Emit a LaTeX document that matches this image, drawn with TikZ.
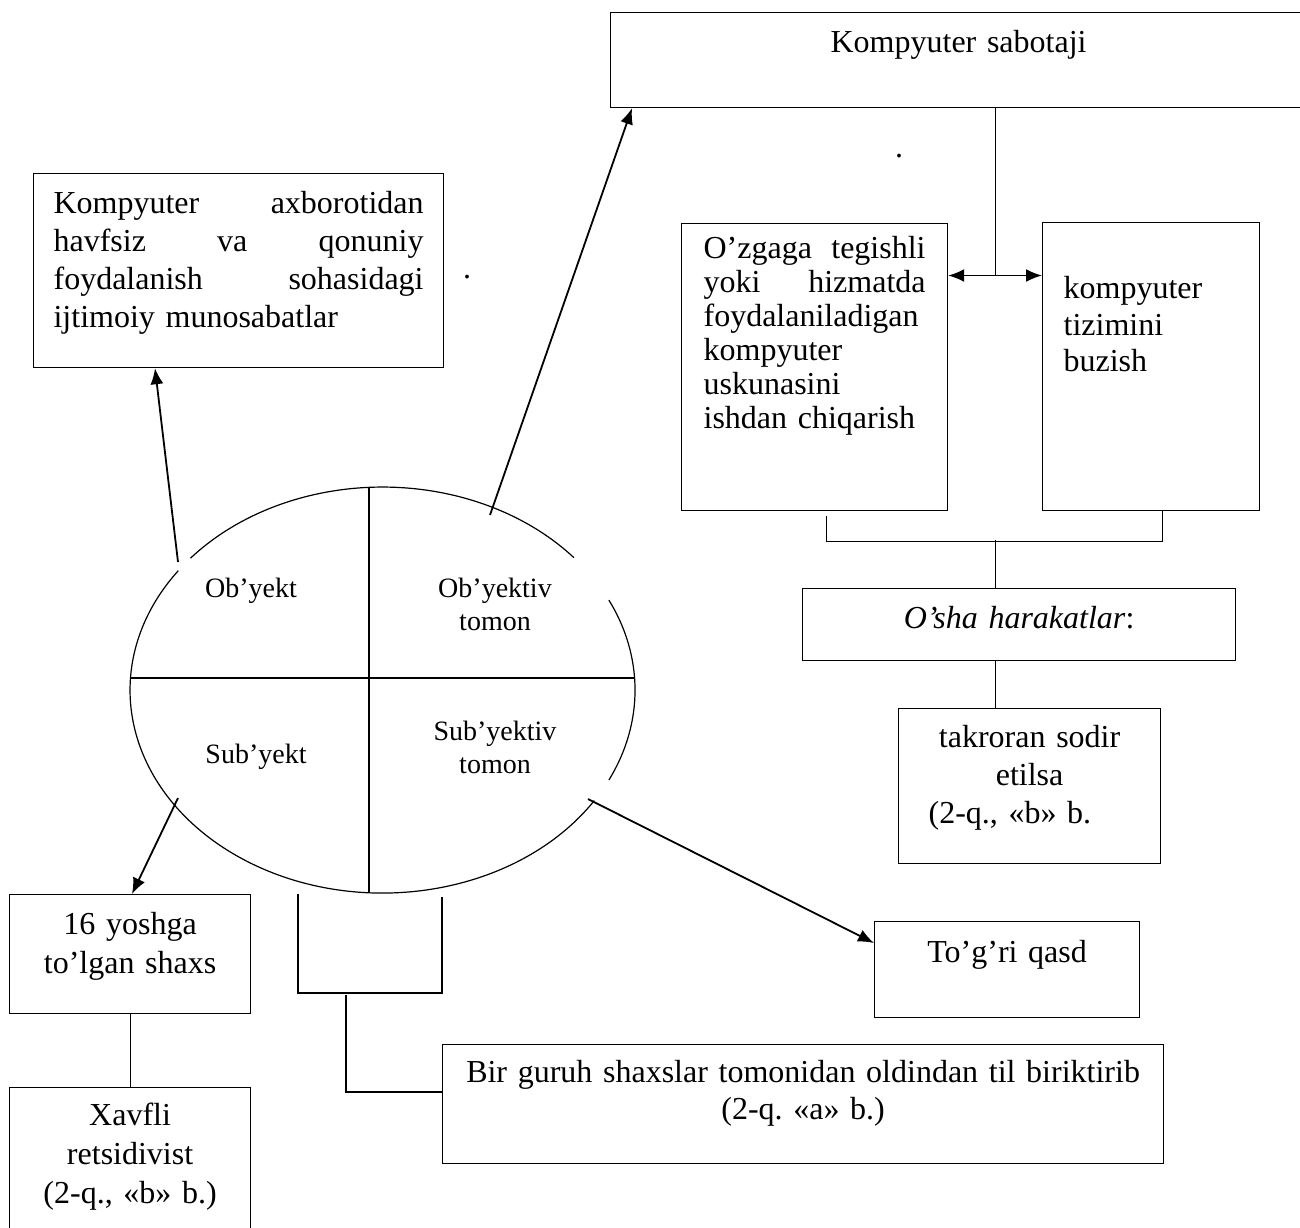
\documentclass[tikz,border=0pt]{standalone}
\usepackage{fontspec}
\setmainfont{Liberation Serif}
\usetikzlibrary{arrows.meta,calc}
\frenchspacing

\begin{document}
\begin{tikzpicture}[x=0.5pt,y=-0.5pt]

    \tikzset{
      blok/.style={
        draw,
        line width=0.6pt,
        anchor=north west,
        inner ysep=0pt,
        font=\fontsize{16}{18.5}\selectfont,
      },
      yozuv/.style={
        anchor=base,
        text width=80pt,
        align=center,
        inner sep=0pt,
        font=\fontsize{14}{16.5}\selectfont,
      },
      strelka/.style={
        line width=0.9pt,
        -{Latex[length=8pt,width=6.5pt]},
      },
      chiziq/.style={
        line width=0.6pt,
      },
    }
    \useasboundingbox (0,0) rectangle (1300,1227);
    \clip (0,0) rectangle (1300,1227);

	\node[blok, inner xsep=0pt, text width=348pt, align=center, text height=20pt, text depth=27.5pt] (sabotaj) at (610,12) {Kompyuter sabotaji};
	\node[blok, inner xsep=10pt, text width=185pt, align=left, text height=20pt, text depth=77pt, font=\fontsize{16}{19}\selectfont] (axborot) at (33,173) {Kompyuter\hfill axborotidan\\havfsiz\hfill va\hfill qonuniy\\foydalanish\hfill sohasidagi\\ijtimoiy munosabatlar};
	\node[blok, inner xsep=11pt, text width=111pt, align=left, text height=17.5pt, text depth=126pt, font=\fontsize{16}{17}\selectfont] (ozgaga) at (681,223) {O’zgaga\hfill tegishli\\yoki\hfill hizmatda\\foydalaniladigan\\kompyuter\\uskunasini\\ishdan chiqarish};
	\node[blok, inner xsep=10.5pt, text width=87.5pt, align=left, text height=38pt, text depth=106pt, font=\fontsize{16}{18.3}\selectfont] (tizim) at (1042,222) {kompyuter\\tizimini\\buzish};
	\node[blok, inner xsep=0pt, text width=216.5pt, align=center, text height=20pt, text depth=16pt] (osha) at (802,588) {\textit{O’sha harakatlar}:};
	\node[blok, inner xsep=0pt, text width=131pt, align=center, text height=19.5pt, text depth=58pt, font=\fontsize{16}{19}\selectfont] (takror) at (898,708) {takroran sodir\\etilsa\\\makebox[131pt][l]{\hspace{15pt}(2-q., «b» b.}};
	\node[blok, inner xsep=0pt, text width=132.5pt, align=center, text height=20.5pt, text depth=27.5pt] (togri) at (874,921) {To’g’ri qasd};
	\node[blok, inner xsep=0pt, text width=360.5pt, align=center, text height=19pt, text depth=40.5pt] (birguruh) at (442,1044) {Bir guruh shaxslar tomonidan oldindan til biriktirib\\(2-q. «a» b.)};
	\node[blok, inner xsep=0pt, text width=120.5pt, align=center, text height=20pt, text depth=39.5pt, font=\fontsize{16}{19.5}\selectfont] (yosh16) at (9,894) {16 yoshga\\to’lgan shaxs};
	\node[blok, inner xsep=0pt, text width=120.5pt, align=center, text height=19pt, text depth=55pt, font=\fontsize{16}{19.5}\selectfont] (xavfli) at (9,1087) {Xavfli\\retsidivist\\(2-q., «b» b.)};

	\draw[chiziq] (190.5,558.2) arc[start angle=139.5, end angle=40.7, x radius=126.25pt, y radius=101.5pt];
	\draw[chiziq] (608.9,600.1) arc[start angle=26.3, end angle=-26.3, x radius=126.25pt, y radius=101.5pt];
	\draw[chiziq] (594.3,800.6) arc[start angle=-33, end angle=-216, x radius=126.25pt, y radius=101.5pt];
	\draw[chiziq] (369,487) -- (369,893);
	\draw[chiziq] (130,678) -- (635,678);

	\node[yozuv] (obyekt) at (251,597) {Ob’yekt};
	\node[yozuv] (obtomon) at (495,597) {Ob’yektiv\\tomon};
	\node[yozuv] (subyekt) at (256,763) {Sub’yekt};
	\node[yozuv] (subtomon) at (495,740) {Sub’yektiv\\tomon};

	\coordinate (el-a) at (178,562);
	\coordinate (el-b) at (490,515);
	\coordinate (el-c) at (178,798);
	\coordinate (el-d) at (588,799);
	\draw[strelka] (el-a) -- ([xshift=61pt]axborot.south west);
	\draw[strelka] (el-b) -- ([xshift=11pt]sabotaj.south west);
	\draw[strelka] (el-c) -- ([xshift=61.5pt]yosh16.north west);
	\draw[strelka] (el-d) -- ([yshift=-11pt]togri.north west);

	\coordinate (juft) at ($(ozgaga.north east)!0.5!(tizim.north west)+(0,53)$);
	\draw[line width=0.9pt, {Latex[length=8pt,width=6.5pt]}-{Latex[length=8pt,width=6.5pt]}] (ozgaga.east |- juft) -- (tizim.west |- juft);
	\draw[chiziq] (sabotaj.south -| juft) -- (juft);
	\draw[chiziq] ([xshift=6pt,yshift=-2.5pt]ozgaga.south) |- ([xshift=5.5pt,yshift=-15pt]tizim.south) -- ([xshift=5.5pt]tizim.south);
	\draw[chiziq] (juft |- osha.north) -- ++(0,-48);
	\draw[chiziq] (juft |- osha.south) -- (juft |- takror.north);
	\draw[chiziq] (yosh16.south) -- (xavfli.north);

	\draw[chiziq] (298,894) |- (442,993) -- (442,897);
	\coordinate (qavs) at (346,995);
	\draw[chiziq] (qavs) |- ([yshift=-24pt]birguruh.north west);

	\node[inner sep=0pt, anchor=base, font=\fontsize{16}{18}\selectfont] (nuqta1) at (899,157) {.};
	\node[inner sep=0pt, anchor=base, font=\fontsize{16}{18}\selectfont] (nuqta2) at (467,278) {.};

\end{tikzpicture}
\end{document}
